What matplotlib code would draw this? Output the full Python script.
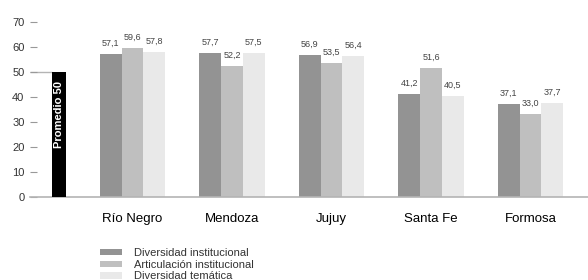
import numpy as np
import matplotlib
matplotlib.use("Agg")
from matplotlib import pyplot as plt

plt.rcParams['font.family'] = ['Liberation Sans', 'DejaVu Sans']

# data
provincias = ["Río Negro", "Mendoza", "Jujuy", "Santa Fe", "Formosa"]
diversidad_inst = [57.1, 57.7, 56.9, 41.2, 37.1]
articulacion_inst = [59.6, 52.2, 53.5, 51.6, 33.0]
diversidad_tem = [57.8, 57.5, 56.4, 40.5, 37.7]
series_names = ["Diversidad institucional", "Articulación institucional", "Diversidad temática"]
promedio = 50
yticks = [0, 10, 20, 30, 40, 50, 60, 70]

colors = ["#939393", "#bfbfbf", "#e9e9e9"]
txt = "#333333"
axis_gray = "#b4b4b4"

W, H = 588, 280
fig = plt.figure(figsize=(W / 100, H / 100), dpi=100)
# axes in pixel terms: left 30, right 588, baseline y=196.7, 70 at y=22
ax = fig.add_axes([30 / W, (H - 196.7) / H, (W - 30) / W, (196.7 - 22) / H])

x = np.arange(len(provincias))
bw = 0.218
allvals = [diversidad_inst, articulacion_inst, diversidad_tem]
bars = []
for k, vals in enumerate(allvals):
    b = ax.bar(x + (k - 1) * bw, vals, width=bw, color=colors[k], label=series_names[k], zorder=2)
    bars.append(b)
    for xi, v in zip(x + (k - 1) * bw, vals):
        ax.annotate(("%.1f" % v).replace(".", ","), (xi, v), xytext=(0, 4.5),
                    textcoords="offset points", ha="center", va="bottom",
                    fontsize=6.5, color="#444444")

# promedio bar
px = -0.739
pw = 0.14
ax.bar(px, promedio, width=pw, color="black", zorder=3)
ax.text(px, 33, "Promedio 50", rotation=90, color="white", fontweight="bold",
        fontsize=8, ha="center", va="center", zorder=4)
xl = (30 - 132.5) / 99.5
xr = (588 - 132.5) / 99.5
ax.hlines(promedio, xl, px - pw / 2, color=axis_gray, lw=1, zorder=1)

ax.set_xlim(xl, xr)
ax.set_ylim(0, 70)
ax.set_yticks(yticks)
ax.tick_params(axis="y", direction="in", length=5, width=0.8, color="#999999",
               labelsize=8, labelcolor=txt, pad=4)
ax.set_xticks(x)
ax.set_xticklabels(provincias)
ax.tick_params(axis="x", length=0, labelsize=9.5, labelcolor="black", pad=12)
for s in ["left", "right", "top"]:
    ax.spines[s].set_visible(False)
ax.spines["bottom"].set_color(axis_gray)
ax.spines["bottom"].set_linewidth(1.2)
ax.patch.set_alpha(0)

fig.legend(handles=bars, labels=series_names, loc="upper left",
           bbox_to_anchor=(100 / W, 1 - 248 / H), frameon=False, fontsize=8,
           handlelength=2.0, handleheight=0.5, labelspacing=0.15,
           handletextpad=1.1, borderpad=0, borderaxespad=0, labelcolor=txt)

fig.savefig("out.png", dpi=100)
